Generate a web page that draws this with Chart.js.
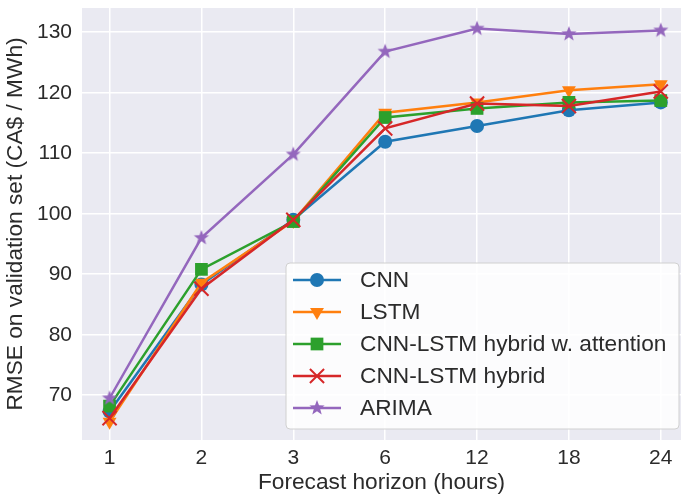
<!doctype html>
<html>
  <head>
    <meta charset="UTF-8" />
    <title>RMSE vs forecast horizon</title>
    <script src="https://cdn.jsdelivr.net/npm/chart.js"></script>
    <style>
      body { margin: 0; background: white; }
      canvas { display: block; }
    </style>
  </head>
  <body>
    <canvas id="rmseChart" width="681" height="496"></canvas>
    <script>
      // data
      const horizons = ['1', '2', '3', '6', '12', '18', '24'];
      const yTicks = [70, 80, 90, 100, 110, 120, 130];
      const labels = ['CNN', 'LSTM', 'CNN-LSTM hybrid w. attention', 'CNN-LSTM hybrid', 'ARIMA'];
      const cnn = [67.3, 88.3, 99.0, 111.9, 114.5, 117.1, 118.4];
      const lstm = [65.6, 88.6, 98.8, 116.7, 118.4, 120.4, 121.4];
      const attn = [68.2, 90.8, 98.7, 115.9, 117.4, 118.4, 118.7];
      const hybrid = [66.2, 87.6, 99.0, 114.1, 118.2, 117.8, 120.2];
      const arima = [69.5, 96.0, 109.8, 126.8, 130.6, 129.7, 130.3];

      const font = '"Liberation Sans", Arial, sans-serif';
      const textColor = '#2b2b2b';

      // markers may overflow the plot like in matplotlib, no extra layout padding
      Chart.LineController.prototype.getMaxOverflow = function () {
        return 0;
      };

      // filled star marker like matplotlib '*'
      function makeStar(color, r) {
        const c = document.createElement('canvas');
        c.width = c.height = r * 2 + 2;
        const g = c.getContext('2d');
        g.beginPath();
        for (let i = 0; i < 10; i++) {
          const rad = i % 2 === 0 ? r : r * 0.42;
          const a = -Math.PI / 2 + (i * Math.PI) / 5;
          const px = r + 1 + rad * Math.cos(a);
          const py = r + 1 + rad * Math.sin(a);
          if (i === 0) g.moveTo(px, py);
          else g.lineTo(px, py);
        }
        g.closePath();
        g.fillStyle = color;
        g.fill();
        return c;
      }

      const series = [
        { data: cnn, color: '#1f77b4', style: 'circle', radius: 7, rotation: 0 },
        { data: lstm, color: '#ff7f0e', style: 'triangle', radius: 8, rotation: 180 },
        { data: attn, color: '#2ca02c', style: 'rect', radius: 9, rotation: 0 },
        { data: hybrid, color: '#d62728', style: 'crossRot', radius: 10, rotation: 0 },
        { data: arima, color: '#9467bd', style: makeStar('#9467bd', 8), radius: 8, rotation: 0 },
      ];

      const datasets = series.map((s, i) => ({
        label: labels[i],
        data: s.data.map((v, j) => ({ x: j, y: v })),
        borderColor: s.color,
        backgroundColor: s.color,
        borderWidth: 2.5,
        pointStyle: s.style,
        pointRadius: s.radius,
        pointRotation: s.rotation,
        pointBorderWidth: s.style === 'crossRot' ? 2 : 0,
        pointBorderColor: s.color,
        pointBackgroundColor: s.color,
        tension: 0,
        order: series.length - i,
      }));

      const bgPlugin = {
        id: 'bg',
        beforeDraw(chart) {
          const a = chart.chartArea;
          const ctx = chart.ctx;
          ctx.save();
          ctx.fillStyle = '#eaeaf2';
          ctx.fillRect(a.left, a.top, a.right - a.left, a.bottom - a.top);
          ctx.restore();
        },
      };

      // matplotlib-like legend box inside the plot
      const legendPlugin = {
        id: 'mplLegend',
        afterDraw(chart) {
          const ctx = chart.ctx;
          const x0 = 286, y0 = 263, w = 393, h = 166;
          ctx.save();
          ctx.beginPath();
          ctx.roundRect(x0, y0, w, h, 4);
          ctx.fillStyle = 'rgba(255,255,255,0.85)';
          ctx.fill();
          ctx.strokeStyle = '#d0d0d0';
          ctx.lineWidth = 1;
          ctx.stroke();
          ctx.font = '22.7px ' + font;
          ctx.textBaseline = 'middle';
          series.forEach((s, i) => {
            const y = 280 + i * 32;
            ctx.strokeStyle = s.color;
            ctx.lineWidth = 2.5;
            ctx.beginPath();
            ctx.moveTo(293, y);
            ctx.lineTo(341, y);
            ctx.stroke();
            ctx.fillStyle = s.color;
            ctx.lineWidth = s.style === 'crossRot' ? 2 : 0;
            Chart.helpers.drawPoint(ctx, {
              pointStyle: s.style,
              radius: s.radius,
              rotation: s.rotation,
              borderWidth: s.style === 'crossRot' ? 2 : 0,
            }, 317, y);
            ctx.fillStyle = textColor;
            ctx.fillText(labels[i], 360, y + 1);
          });
          ctx.restore();
        },
      };

      new Chart(document.getElementById('rmseChart'), {
        type: 'line',
        data: { datasets: datasets },
        plugins: [bgPlugin, legendPlugin],
        options: {
          responsive: false,
          animation: false,
          layout: { padding: { top: 8, right: 0, left: 0, bottom: 0 } },
          plugins: { legend: { display: false }, tooltip: { enabled: false } },
          scales: {
            x: {
              type: 'linear',
              min: -0.3,
              max: 6.22,
              afterBuildTicks: (scale) => {
                scale.ticks = horizons.map((h, i) => ({ value: i }));
              },
              afterFit: (scale) => {
                scale.height = 56;
                scale.paddingLeft = 0;
                scale.paddingRight = 0;
              },
              ticks: {
                callback: (v) => horizons[v],
                color: textColor,
                font: { family: font, size: 21 },
                padding: 6,
                maxRotation: 0,
              },
              grid: { color: '#ffffff', lineWidth: 1.5, drawTicks: false },
              border: { display: false },
              title: {
                display: true,
                text: 'Forecast horizon (hours)',
                color: textColor,
                font: { family: font, size: 22.7 },
                padding: { top: 0, bottom: 0 },
              },
            },
            y: {
              min: 62.6,
              max: 134,
              afterBuildTicks: (scale) => {
                scale.ticks = yTicks.map((v) => ({ value: v }));
              },
              afterFit: (scale) => {
                scale.width = 82;
                scale.paddingTop = 0;
                scale.paddingBottom = 0;
              },
              ticks: {
                color: textColor,
                font: { family: font, size: 21, lineHeight: 0.4 },
                padding: 10,
              },
              grid: { color: '#ffffff', lineWidth: 1.5, drawTicks: false },
              border: { display: false },
              title: {
                display: true,
                text: 'RMSE on validation set (CA$ / MWh)',
                color: textColor,
                font: { family: font, size: 22.7 },
                padding: { top: 2, bottom: 0 },
              },
            },
          },
        },
      });
    </script>
  </body>
</html>
